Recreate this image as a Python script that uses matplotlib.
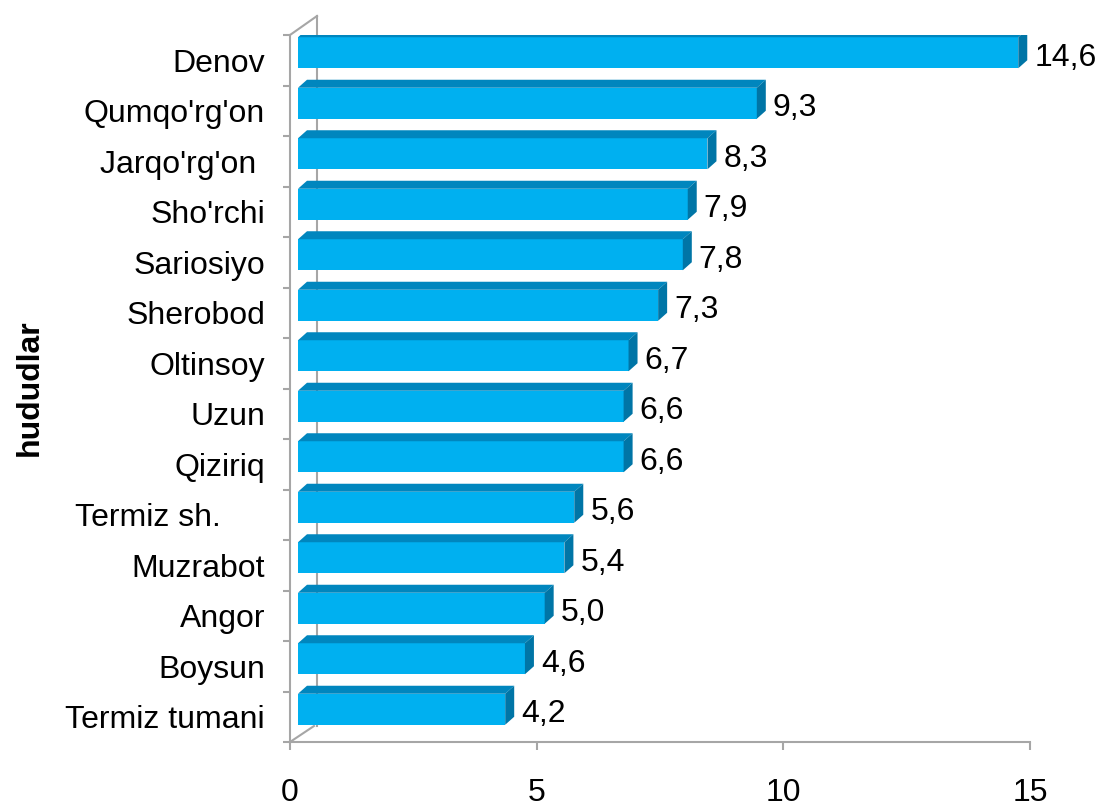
import matplotlib.pyplot as plt
from matplotlib.patches import Polygon, Rectangle

plt.rcParams['font.family'] = ['Liberation Sans', 'DejaVu Sans']

# data, top to bottom
regions = ["Denov", "Qumqo'rg'on", "Jarqo'rg'on ", "Sho'rchi", "Sariosiyo",
           "Sherobod", "Oltinsoy", "Uzun", "Qiziriq", "Termiz sh.     ",
           "Muzrabot", "Angor", "Boysun", "Termiz tumani"]
values = [14.6, 9.3, 8.3, 7.9, 7.8, 7.3, 6.7, 6.6, 6.6, 5.6, 5.4, 5.0, 4.6, 4.2]
xticks = [0, 5, 10, 15]

front = '#00B0F0'
top_c = '#0086BE'
side_c = '#0075A6'
grey = '#A6A6A6'

fig = plt.figure(figsize=(11, 8.07), dpi=100)
ax = fig.add_axes([290/1100, 1-742/807, 740/1100, 707/807])
n = len(values)
ax.set_xlim(0, 15)
ax.set_ylim(n - 0.5, -0.5)

# pixel -> data unit
PX = 15/740
PY = n/707

h = 31*PY
dx, dy = 9*PX, 8*PY
ox, oy = 8*PX, 7.5*PY

for i, v in enumerate(values):
    yc = i - oy
    yt, yb = yc - h/2, yc + h/2
    x0, x1 = ox, ox + v
    ax.add_patch(Rectangle((x0, yt), v, h, facecolor=front, edgecolor='none', zorder=3))
    ax.add_patch(Polygon([(x0, yt), (x0+dx, yt-dy), (x1+dx, yt-dy), (x1, yt)],
                         facecolor=top_c, edgecolor='none', zorder=3))
    ax.add_patch(Polygon([(x1, yt), (x1+dx, yt-dy), (x1+dx, yb-dy), (x1, yb)],
                         facecolor=side_c, edgecolor='none', zorder=3))
    ax.text(x1 + dx + 7*PX, yc + 5*PY, f"{v:.1f}".replace('.', ','),
            fontsize=23, va='center', ha='left', zorder=4)

# 3d frame
wx, wy = 27*PX, 19*PY
ax.plot([0, 0], [-0.5, n-0.5], color=grey, lw=1.5, clip_on=False, zorder=2)
ax.plot([0, 15], [n-0.5, n-0.5], color=grey, lw=1.5, clip_on=False, zorder=2)
ax.plot([wx, wx], [-0.5-wy, n-0.5-16*PY], color=grey, lw=1.5, clip_on=False, zorder=1)
ax.plot([0, wx], [-0.5, -0.5-wy], color=grey, lw=1.5, clip_on=False, zorder=1)
ax.plot([0, 24*PX], [n-0.5, n-0.5-16*PY], color=grey, lw=1.5, clip_on=False, zorder=1)

for s in ax.spines.values():
    s.set_visible(False)

ax.set_yticks(range(n))
ax.set_yticklabels(regions, fontsize=23)
ax.set_yticks([i - 0.5 for i in range(n+1)], minor=True)
ax.tick_params(axis='y', which='major', length=0, pad=18)
ax.tick_params(axis='y', which='minor', length=5, width=1.5, color=grey)

ax.set_xticks(xticks)
ax.set_xticklabels([str(t) for t in xticks], fontsize=23)
ax.tick_params(axis='x', length=6, width=1.5, color=grey, pad=20)

fig.text(30/1100, 1-388/807, 'hududlar', rotation=90, fontsize=23,
         fontweight='bold', ha='center', va='center')

fig.savefig('out.png', dpi=100)
